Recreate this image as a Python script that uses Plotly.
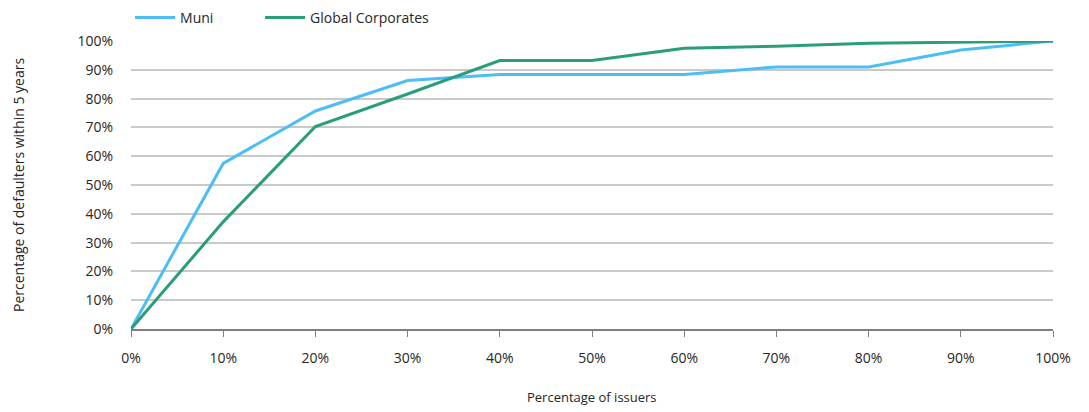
import plotly.graph_objects as go

issuers_pct = [0, 10, 20, 30, 40, 50, 60, 70, 80, 90, 100]
muni = [0, 57.5, 75.7, 86.3, 88.4, 88.4, 88.4, 91.0, 91.0, 96.9, 100]
global_corporates = [0, 37.2, 70.3, 81.6, 93.2, 93.2, 97.5, 98.2, 99.2, 99.7, 100]

tick_vals = [0, 10, 20, 30, 40, 50, 60, 70, 80, 90, 100]
tick_text = [f"{v}%" for v in tick_vals]

FONT = "Open Sans, Noto Sans, sans-serif"
TEXT = "#262626"

fig = go.Figure()
fig.add_trace(go.Scatter(
    x=issuers_pct, y=muni, name="Muni", mode="lines",
    line=dict(color="#4DBEF5", width=3), legend="legend",
))
fig.add_trace(go.Scatter(
    x=issuers_pct, y=global_corporates, name="Global Corporates", mode="lines",
    line=dict(color="#2A9D79", width=3), legend="legend2",
))

legend_style = dict(
    orientation="h", y=1.08, xanchor="left", yanchor="middle",
    font=dict(size=14, color=TEXT), itemwidth=40, bgcolor="rgba(0,0,0,0)",
)

fig.update_layout(
    width=1089, height=412,
    margin=dict(l=131, r=36, t=41, b=83, autoexpand=False),
    paper_bgcolor="white", plot_bgcolor="white",
    font=dict(family=FONT, size=14, color=TEXT),
    showlegend=True,
    legend=dict(x=-0.001, **legend_style),
    legend2=dict(x=0.14, **legend_style),
    xaxis=dict(
        range=[0, 100], tickvals=tick_vals, ticktext=tick_text,
        showgrid=False, zeroline=False, automargin=False,
        showline=True, linecolor="#7F7F7F", linewidth=1.5,
        ticks="outside", ticklen=6, tickcolor="#7F7F7F", tickwidth=1,
        ticklabelstandoff=9,
        tickfont=dict(size=14, color=TEXT),
    ),
    yaxis=dict(
        range=[0, 100], tickvals=tick_vals, ticktext=tick_text,
        showgrid=True, gridcolor="#C9C9C9", gridwidth=1.5, zeroline=False,
        showline=False, ticks="", ticklabelstandoff=17, automargin=False,
        tickfont=dict(size=14, color=TEXT),
    ),
    annotations=[
        dict(text="Percentage of issuers", xref="paper", yref="paper",
             x=0.5, y=(329 - 397) / 288, xanchor="center", yanchor="middle",
             showarrow=False, font=dict(size=13, color=TEXT)),
        dict(text="Percentage of defaulters within 5 years", xref="paper", yref="paper",
             x=(18 - 131) / 922, y=0.5, xanchor="center", yanchor="middle",
             textangle=-90, showarrow=False, font=dict(size=14, color=TEXT)),
    ],
)

fig.write_html("out.html")
